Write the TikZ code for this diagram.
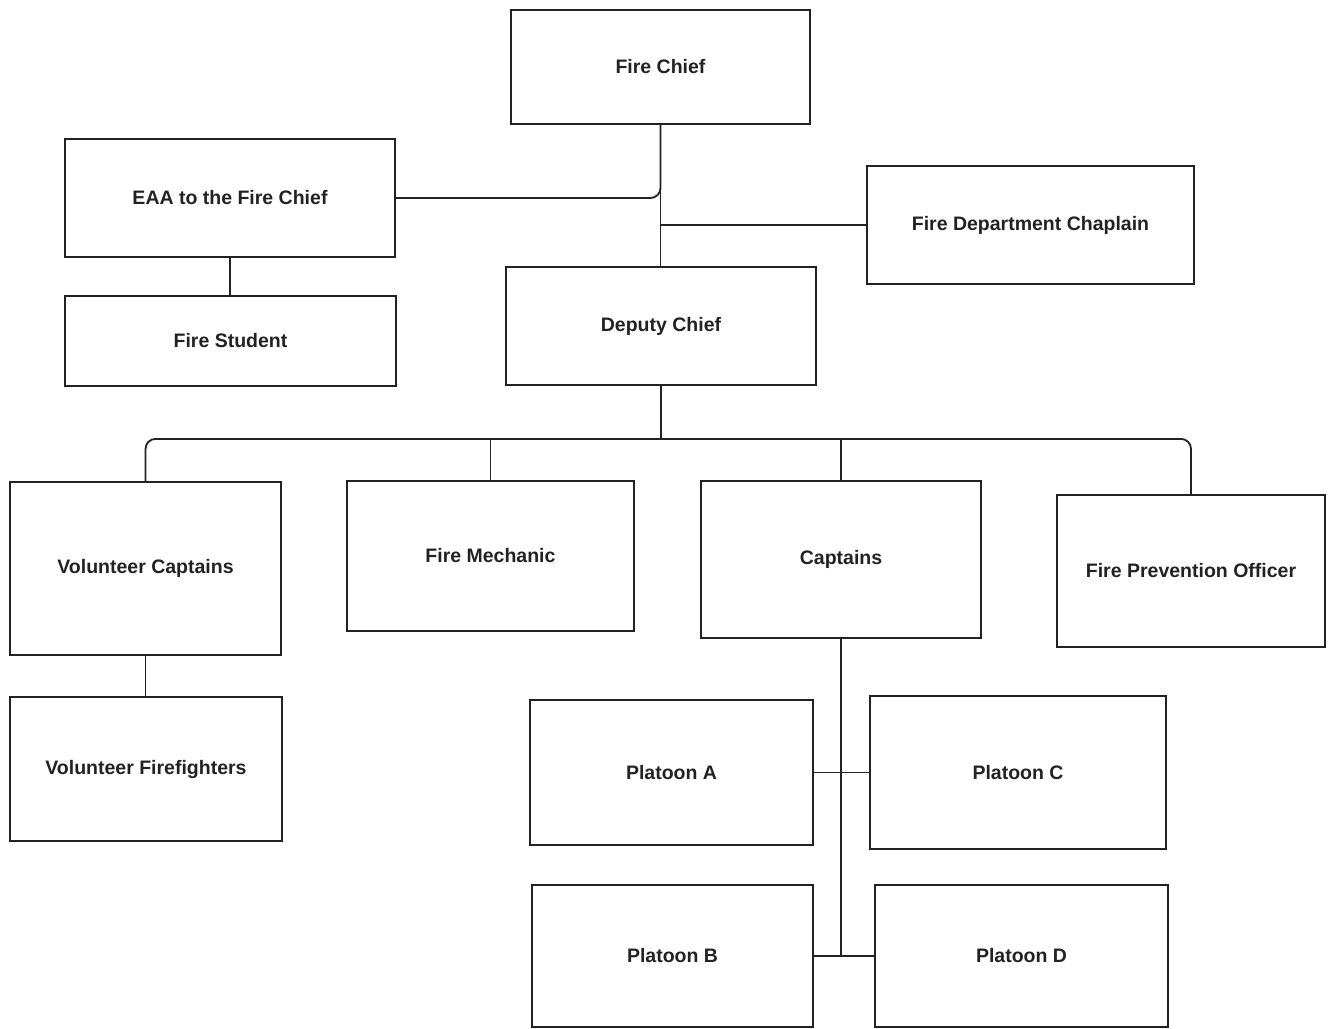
\documentclass[tikz,border=0pt]{standalone}
\usepackage{fontspec}
\setmainfont{Liberation Sans}
\usetikzlibrary{calc}
\definecolor{ink}{HTML}{222222}
\tikzset{
  box/.style={draw=ink, line width=1.8pt, inner sep=0pt, align=center, text=ink,
    font=\fontsize{19.5}{23}\selectfont\bfseries},
  link/.style={draw=ink, line width=1.8pt},
}
\begin{document}
\begin{tikzpicture}[x=1pt,y=-1pt]
\useasboundingbox (0,0) rectangle (1329,1028);
\node[box, minimum width=299pt, minimum height=114pt] (chief) at (660.5,67) {Fire Chief};
\node[box, minimum width=330pt, minimum height=118pt] (eaa) at (230,198) {EAA to the Fire Chief};
\node[box, minimum width=331pt, minimum height=90pt] (student) at (230.5,341) {Fire Student};
\node[box, minimum width=327pt, minimum height=118pt] (chaplain) at (1030.5,225) {Fire Department Chaplain};
\node[box, minimum width=310pt, minimum height=118pt] (deputy) at (661,326) {Deputy Chief};
\node[box, minimum width=271pt, minimum height=173pt] (volcap) at (145.5,568.5) {Volunteer Captains};
\node[box, minimum width=287pt, minimum height=150pt] (mechanic) at (490.5,556) {Fire Mechanic};
\node[box, minimum width=280pt, minimum height=157pt] (captains) at (841,559.5) {Captains};
\node[box, minimum width=268pt, minimum height=152pt] (prevention) at (1191,571) {Fire Prevention Officer};
\node[box, minimum width=272pt, minimum height=144pt] (volff) at (146,769) {Volunteer Firefighters};
\node[box, minimum width=283pt, minimum height=145pt] (platA) at (671.5,772.5) {Platoon A};
\node[box, minimum width=296pt, minimum height=153pt] (platC) at (1018,772.5) {Platoon C};
\node[box, minimum width=281pt, minimum height=142pt] (platB) at (672.5,956) {Platoon B};
\node[box, minimum width=293pt, minimum height=142pt] (platD) at (1021.5,956) {Platoon D};

\coordinate (bus) at ($(deputy.south)+(0,53)$);

% top section
\draw[link] (chief.south) -- (chief.south |- deputy.north);
\draw[link, rounded corners=10pt] (eaa.east) -| (chief.south);
\draw[link] (chaplain.west) -- (chaplain.west -| chief.south);
\draw[link] (eaa.south) -- (eaa.south |- student.north);

% deputy bus
\draw[link] (deputy.south) -- (bus);
\draw[link, rounded corners=10pt] (volcap.north) |- (bus) -| (prevention.north);
\draw[link] (mechanic.north) -- (mechanic.north |- bus);
\draw[link] (captains.north) -- (captains.north |- bus);
\draw[link] (volcap.south) -- (volcap.south |- volff.north);

% platoons
\draw[link] (captains.south) -- (captains.south |- platB.east);
\draw[link] (platA.east) -- (platA.east -| platC.west);
\draw[link] (platB.east) -- (platB.east -| platD.west);
\end{tikzpicture}
\end{document}
